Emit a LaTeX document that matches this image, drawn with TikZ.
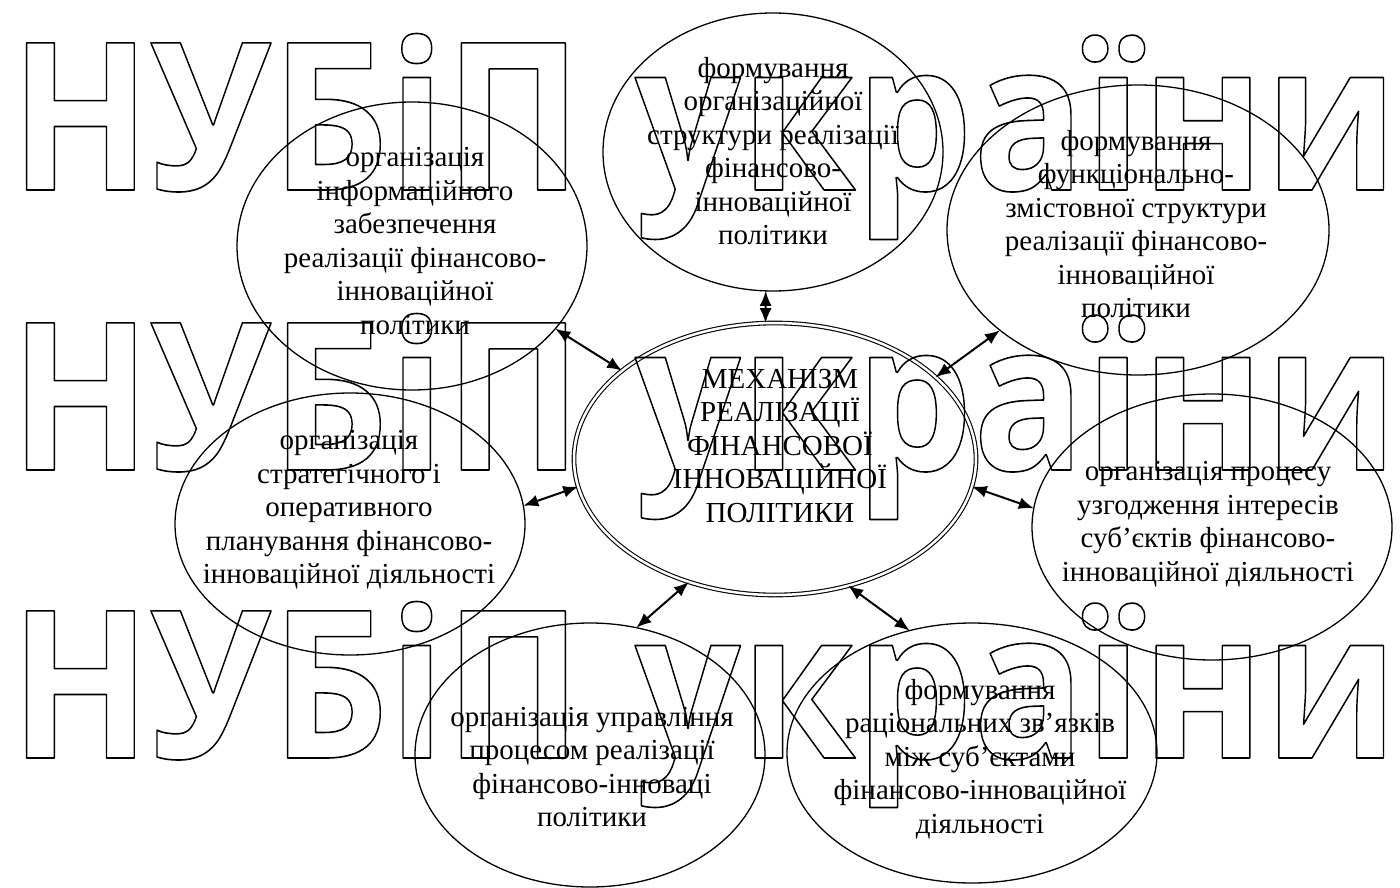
\documentclass[tikz,border=0pt]{standalone}
\usepackage{fontspec}
\usepackage{graphicx}
\setmainfont{Liberation Serif}
\newfontfamily\wmfont{Open Sans}
\usetikzlibrary{arrows.meta,shapes.geometric}
\newcommand\wmtext[1]{{\fontsize{206}{206}\selectfont\wmfont\bfseries\special{pdf:literal direct 1 Tr 1.6 w 1 j}#1\special{pdf:literal direct 0 Tr 0 j}}}
\begin{document}
\begin{tikzpicture}[x=1pt,y=-1pt,
  every node/.style={inner sep=0pt, outer sep=0pt},
  oval/.style 2 args={draw, ellipse, line width=1.3pt, minimum width=#1, minimum height=#2},
  lbl/.style={align=center, font=\fontsize{29}{33.5}\selectfont},
  link/.style={{Latex[length=15pt,width=12pt]}-{Latex[length=15pt,width=12pt]}, line width=2pt},
  wm/.style={anchor=base west}
]
\useasboundingbox[fill=white] (0,0) rectangle (1400,888);

% ellipses
\node[draw, ellipse, double, double distance=2.5pt, line width=1.1pt, minimum width=402pt, minimum height=272pt] (c) at (775,459) {};
\node[oval={350pt}{288pt}] (tl) at (412,246) {};
\node[oval={340pt}{278pt}] (t) at (773,152) {};
\node[oval={382pt}{290pt}] (tr) at (1138,230) {};
\node[oval={350pt}{262pt}] (l) at (350,524) {};
\node[oval={360pt}{266pt}] (r) at (1212,527) {};
\node[oval={350pt}{264pt}] (bl) at (590,755) {};
\node[oval={370pt}{260pt}] (br) at (972,753) {};

% texts
\node[lbl] (ct) at (780,446) {МЕХАНІЗМ\\РЕАЛІЗАЦІЇ\\ФІНАНСОВОЇ\\ІННОВАЦІЙНОЇ\\ПОЛІТИКИ};
\node[lbl] (tlt) at (415,241) {організація\\інформаційного\\забезпечення\\реалізації фінансово-\\інноваційної\\політики};
\node[lbl] (tt) at (773,151) {формування\\організаційної\\структури реалізації\\фінансово-\\інноваційної\\політики};
\node[lbl] (trt) at (1136,224) {формування\\функціонально-\\змістовної структури\\реалізації фінансово-\\інноваційної\\політики};
\node[lbl] (lt) at (349,510) {організація\\стратегічного і\\оперативного\\планування фінансово-\\інноваційної діяльності};
\node[lbl] (rt) at (1208,524) {організація процесу\\узгодження інтересів\\суб’єктів фінансово-\\інноваційної діяльності};
\node[lbl] (blt) at (592,767) {організація управління\\процесом реалізації\\фінансово-інноваці\\політики};
\node[lbl] (brt) at (980,759) {формування\\раціональних зв’язків\\між суб’єктами\\фінансово-інноваційної\\діяльності};

% connectors
\draw[link] (t.-93.2) -- (c.94.1);
\draw[link] (tl.-30.2) -- (c.150.1);
\draw[link] (tr.216.4) -- (c.27.3);
\draw[link] (l.6.1) -- (c.188.3);
\draw[link] (c.-8.5) -- (r.174.6);
\draw[link] (c.235.6) -- (bl.70.2);
\draw[link] (c.-60.2) -- (br.117.6);

% watermark
\begin{scope}
\foreach \yy in {190,470,758} {
  \node[wm] (wa\yy) at (10,\yy) {\resizebox{572pt}{\height}{\wmtext{НУБіП}}};
  \node[wm] (wb\yy) at (635,\yy) {\resizebox{763pt}{\height}{\wmtext{україни}}};
}
\end{scope}
\end{tikzpicture}
\end{document}
